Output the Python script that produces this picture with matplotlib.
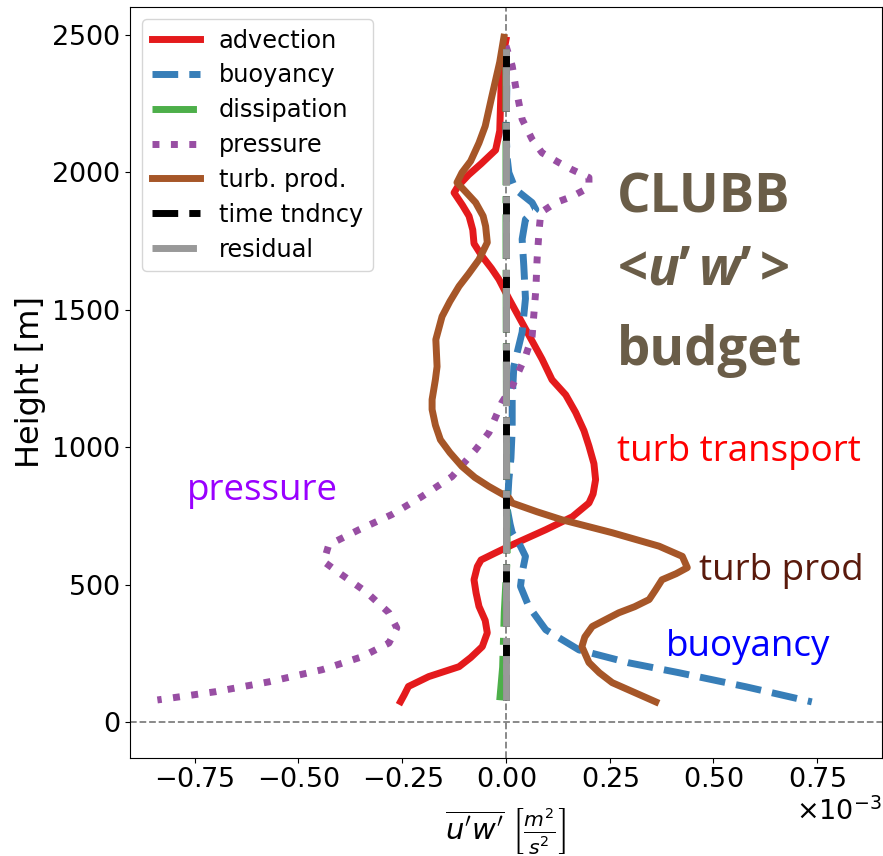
import matplotlib
matplotlib.use("Agg")
import matplotlib.pyplot as plt
from matplotlib.ticker import MultipleLocator

plt.rcParams['axes.formatter.use_mathtext'] = True
plt.rcParams['mathtext.fontset'] = 'dejavusans'
plt.rcParams['mathtext.it'] = 'Open Sans:italic:bold'
plt.rcParams['mathtext.rm'] = 'Open Sans:bold'

# values in units of 1e-3 m^2/s^2, heights in m
adv_z = [2480, 2400, 2250, 2150, 2080, 2030, 1990, 1950, 1925, 1880, 1840, 1790,
         1740, 1695, 1650, 1610, 1540, 1430, 1320, 1245, 1190, 1126, 1060, 1004,
         940, 882, 830, 797, 747, 700, 645, 616, 590, 566, 518, 470, 421, 370,
         325, 275, 235, 202, 166, 130, 100, 75]
adv_x = [0.0, -0.01, -0.013, -0.015, -0.025, -0.06, -0.09, -0.115, -0.125, -0.105,
         -0.089, -0.08, -0.077, -0.058, -0.035, -0.017, 0.007, 0.047, 0.087, 0.111,
         0.144, 0.168, 0.188, 0.2, 0.212, 0.216, 0.21, 0.2, 0.16, 0.096, 0.015,
         -0.025, -0.06, -0.069, -0.077, -0.072, -0.065, -0.05, -0.045, -0.057,
         -0.085, -0.113, -0.186, -0.235, -0.245, -0.254]

buoy_z = [2450, 2300, 2155, 2050, 1998, 1937, 1889, 1864, 1828, 1756, 1658, 1540,
          1418, 1294, 1173, 1064, 960, 882, 830, 800, 760, 720, 689, 640, 603, 543,
          494, 421, 336, 263, 216, 180, 129, 74]
buoy_x = [0.0, 0.002, 0.0, 0.003, 0.007, 0.023, 0.063, 0.072, 0.047, 0.039, 0.043,
          0.047, 0.039, 0.019, 0.015, 0.015, 0.012, 0.007, 0.005, 0.0, 0.005, 0.01,
          0.015, 0.035, 0.047, 0.039, 0.035, 0.055, 0.096, 0.176, 0.296, 0.417,
          0.578, 0.737]

diss_z = [80, 200, 400, 600, 800, 1200, 1800, 2480]
diss_x = [-0.015, -0.008, -0.004, 0.003, 0.002, 0.001, 0.0, 0.0]

pres_z = [2459, 2386, 2313, 2192, 2119, 2070, 2034, 2009, 1980, 1944, 1911, 1889,
          1853, 1791, 1682, 1573, 1403, 1330, 1221, 1162, 1053, 991, 893, 821, 755,
          700, 645, 584, 543, 475, 398, 343, 288, 238, 191, 147, 111, 81]
pres_x = [0.0, 0.015, 0.023, 0.039, 0.063, 0.087, 0.128, 0.159, 0.2, 0.2, 0.159,
          0.12, 0.084, 0.08, 0.075, 0.072, 0.063, 0.047, 0.015, -0.01, -0.041,
          -0.073, -0.13, -0.202, -0.275, -0.354, -0.427, -0.439, -0.402, -0.338,
          -0.282, -0.263, -0.282, -0.347, -0.443, -0.571, -0.70, -0.84]

prod_z = [2490, 2400, 2275, 2167, 2106, 2040, 1998, 1962, 1925, 1889, 1840, 1803,
          1744, 1682, 1630, 1585, 1530, 1475, 1391, 1293, 1246, 1173, 1137, 1080,
          1027, 980, 930, 890, 857, 816, 797, 765, 736, 689, 640, 603, 562, 540,
          518, 480, 446, 420, 398, 348, 310, 275, 217, 180, 144, 74]
prod_x = [-0.005, -0.015, -0.034, -0.05, -0.065, -0.085, -0.106, -0.118, -0.095,
          -0.073, -0.055, -0.049, -0.045, -0.065, -0.09, -0.113, -0.135, -0.154,
          -0.169, -0.166, -0.17, -0.178, -0.178, -0.17, -0.158, -0.135, -0.106,
          -0.075, -0.041, 0.007, 0.015, 0.075, 0.135, 0.256, 0.369, 0.425, 0.437,
          0.41, 0.376, 0.36, 0.345, 0.31, 0.272, 0.208, 0.19, 0.183, 0.2, 0.225,
          0.256, 0.361]

tend_z = [80, 600, 1200, 1800, 2480]
tend_x = [0.0, 0.0, 0.0, 0.0, 0.0]

resid_z = [80, 600, 1200, 1800, 2480]
resid_x = [0.0, 0.0, 0.0, 0.0, 0.0]

scale = 1e-3
lw = 5

fig = plt.figure(figsize=(8.83, 8.56), dpi=100)
ax = fig.add_axes([0.1472, 0.1148, 0.8516, 0.877])

ax.axvline(0, color='gray', linestyle='--', linewidth=1.3)
ax.axhline(0, color='gray', linestyle='--', linewidth=1.3)

ax.plot([v * scale for v in adv_x], adv_z, color='#e41a1c', lw=lw, label='advection')
ax.plot([v * scale for v in buoy_x], buoy_z, color='#377eb8', lw=lw, ls='--', label='buoyancy')
ax.plot([v * scale for v in diss_x], diss_z, color='#4daf4a', lw=lw, ls='-.', label='dissipation')
ax.plot([v * scale for v in pres_x], pres_z, color='#984ea3', lw=lw, ls=':', label='pressure')
ax.plot([v * scale for v in prod_x], prod_z, color='#a65628', lw=lw, label='turb. prod.')
ax.plot([v * scale for v in tend_x], tend_z, color='black', lw=lw, ls='--', label='time tndncy')
ax.plot([v * scale for v in resid_x], resid_z, color='#999999', lw=lw, ls='-.', label='residual')

ax.set_xlim(-0.906e-3, 0.906e-3)
ax.set_ylim(-129, 2600)
ax.xaxis.set_major_locator(MultipleLocator(0.25e-3))
ax.yaxis.set_major_locator(MultipleLocator(500))
ax.ticklabel_format(axis='x', style='sci', scilimits=(-3, -3))
ax.tick_params(labelsize=19.5)
ax.xaxis.get_offset_text().set_fontsize(19.5)

ax.set_xlabel(r"$\overline{u^{\prime}w^{\prime}}\ \left[\frac{m^2}{s^2}\right]$",
              fontsize=21, labelpad=9)
ax.set_ylabel('Height [m]', fontsize=23)

ax.legend(loc='upper left', fontsize=17.3, labelspacing=0.45)

tfont = 'Open Sans'
ax.text(0.268e-3, 1853, 'CLUBB', fontsize=38, fontweight='bold', color='#6a5d48',
        family=tfont)
ax.text(0.268e-3, 1591, r"<$\mathit{u}$’$\,\mathit{w}$’$\,$>", fontsize=38,
        fontweight='bold', color='#6a5d48', family=tfont, math_fontfamily='custom')
ax.text(0.268e-3, 1300, 'budget', fontsize=38, fontweight='bold', color='#6a5d48',
        family=tfont)

ax.text(0.267e-3, 948, 'turb transport', fontsize=26.5, color='#ff0000', family=tfont)
ax.text(0.465e-3, 518, 'turb prod', fontsize=26.5, color='#5a1a0c', family=tfont)
ax.text(0.385e-3, 239, 'buoyancy', fontsize=26.5, color='#0000ff', family=tfont)
ax.text(-0.768e-3, 809, 'pressure', fontsize=26.5, color='#9900ff', family=tfont)

fig.savefig('out.png', dpi=100)
